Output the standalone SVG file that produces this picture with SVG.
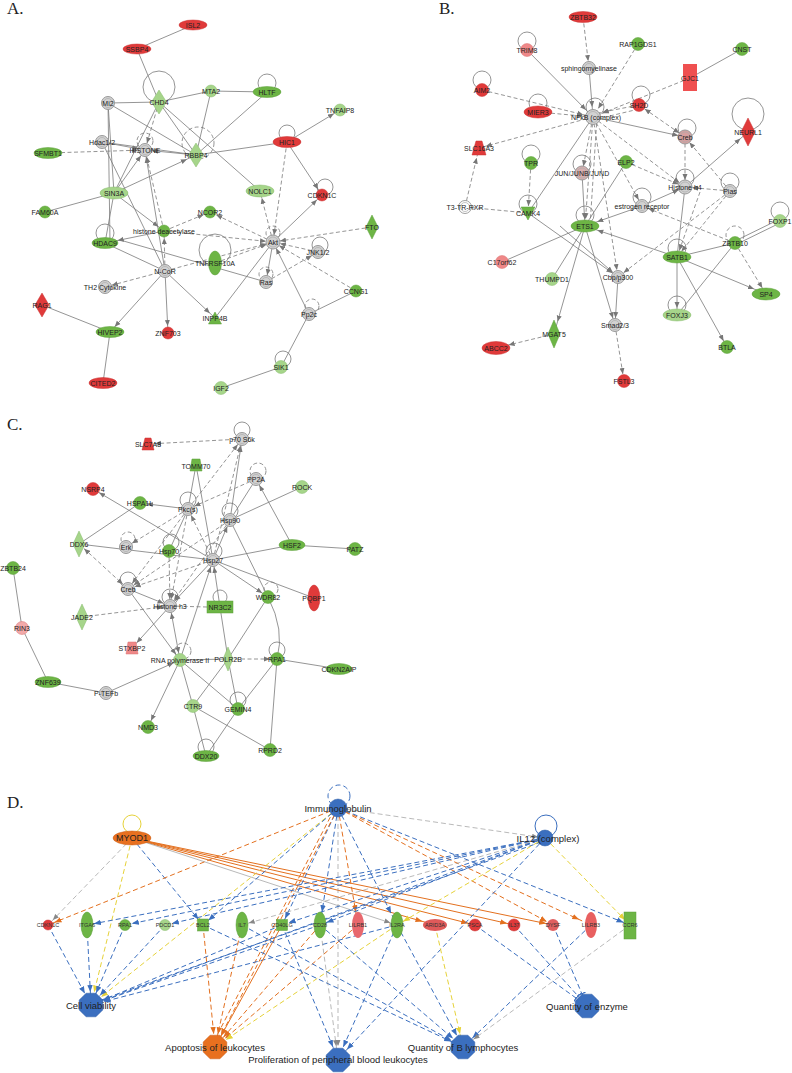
<svg xmlns="http://www.w3.org/2000/svg" width="792" height="1073" viewBox="0 0 792 1073">
<style>
text{font-family:"Liberation Sans",Arial,sans-serif;fill:#222;text-anchor:middle;dominant-baseline:central}
.t{font-size:7px}
.td{font-size:5.5px;fill:#333}
.tb{font-size:9.5px}
.lt{font-family:"Liberation Serif","Times New Roman",serif;font-size:17px;text-anchor:start;dominant-baseline:auto}
.r{fill:#e03a3a;stroke:#c83232;stroke-width:.5}
.pk{fill:#ef8888;stroke:#d87070;stroke-width:.5}
.g{fill:#6db545;stroke:#5b9e38;stroke-width:.5}
.lg{fill:#a6d58a;stroke:#86bb6c;stroke-width:.5}
.gr{fill:#d2d2d2;stroke:#9a9a9a;stroke-width:1}
.in{fill:none;stroke:#aaa;stroke-width:.7}
.wh{fill:#fff;stroke:#888;stroke-width:.8}
.e{stroke:#7a7a7a;stroke-width:.8;fill:none}
.d{stroke-dasharray:4 2.5}
.lp{fill:none;stroke:#7a7a7a;stroke-width:.8}
.bl{stroke:#3b6fbf;stroke-width:1;fill:none}
.or{stroke:#e3701f;stroke-width:1;fill:none}
.ye{stroke:#e6d23a;stroke-width:1;fill:none}
.gy{stroke:#8a8a8a;stroke-width:.6;fill:none}
.dd{stroke-dasharray:5 3}
.nb{fill:#3b6fbf;stroke:#2e5ea8;stroke-width:.5}
.no{fill:#e8701f;stroke:#c85d14;stroke-width:.5}
</style>
<defs>
<marker id="mg7" viewBox="0 0 6 6" refX="13" refY="3" markerWidth="6" markerHeight="6" markerUnits="userSpaceOnUse" orient="auto"><path d="M0,0.5L6,3L0,5.5z" fill="#777"/></marker>
<marker id="mg10" viewBox="0 0 6 6" refX="16" refY="3" markerWidth="6" markerHeight="6" markerUnits="userSpaceOnUse" orient="auto"><path d="M0,0.5L6,3L0,5.5z" fill="#777"/></marker>
<marker id="mg13" viewBox="0 0 6 6" refX="19" refY="3" markerWidth="6" markerHeight="6" markerUnits="userSpaceOnUse" orient="auto"><path d="M0,0.5L6,3L0,5.5z" fill="#777"/></marker>
<marker id="ms7" viewBox="0 0 6 6" refX="-7" refY="3" markerWidth="6" markerHeight="6" markerUnits="userSpaceOnUse" orient="auto"><path d="M6,0.5L0,3L6,5.5z" fill="#777"/></marker>
<marker id="b7" viewBox="0 0 7 6" refX="14" refY="3" markerWidth="7" markerHeight="6" markerUnits="userSpaceOnUse" orient="auto"><path d="M0,0.3L7,3L0,5.7z" fill="#3b6fbf"/></marker>
<marker id="b13" viewBox="0 0 7 6" refX="20" refY="3" markerWidth="7" markerHeight="6" markerUnits="userSpaceOnUse" orient="auto"><path d="M0,0.3L7,3L0,5.7z" fill="#3b6fbf"/></marker>
<marker id="o7" viewBox="0 0 7 6" refX="14" refY="3" markerWidth="7" markerHeight="6" markerUnits="userSpaceOnUse" orient="auto"><path d="M0,0.3L7,3L0,5.7z" fill="#e3701f"/></marker>
<marker id="o13" viewBox="0 0 7 6" refX="20" refY="3" markerWidth="7" markerHeight="6" markerUnits="userSpaceOnUse" orient="auto"><path d="M0,0.3L7,3L0,5.7z" fill="#e3701f"/></marker>
<marker id="y7" viewBox="0 0 7 6" refX="14" refY="3" markerWidth="7" markerHeight="6" markerUnits="userSpaceOnUse" orient="auto"><path d="M0,0.3L7,3L0,5.7z" fill="#e6d23a"/></marker>
<marker id="y13" viewBox="0 0 7 6" refX="20" refY="3" markerWidth="7" markerHeight="6" markerUnits="userSpaceOnUse" orient="auto"><path d="M0,0.3L7,3L0,5.7z" fill="#e6d23a"/></marker>
<marker id="k7" viewBox="0 0 6 6" refX="13" refY="3" markerWidth="6" markerHeight="6" markerUnits="userSpaceOnUse" orient="auto"><path d="M0,0.5L6,3L0,5.5z" fill="#888"/></marker>
<marker id="k13" viewBox="0 0 6 6" refX="19" refY="3" markerWidth="6" markerHeight="6" markerUnits="userSpaceOnUse" orient="auto"><path d="M0,0.5L6,3L0,5.5z" fill="#888"/></marker>
<marker id="tb" viewBox="0 0 2 8" refX="14" refY="4" markerWidth="2" markerHeight="8" markerUnits="userSpaceOnUse" orient="auto"><rect x="0" y="0" width="1.2" height="8" fill="#3b6fbf"/></marker>
<polygon id="oct" points="-4.9,-11.8 4.9,-11.8 11.8,-4.9 11.8,4.9 4.9,11.8 -4.9,11.8 -11.8,4.9 -11.8,-4.9"/>
</defs>
<rect width="792" height="1073" fill="#fff"/>
<text class="lt" x="7" y="14">A.</text>
<text class="lt" x="439" y="14">B.</text>
<text class="lt" x="7" y="430">C.</text>
<text class="lt" x="7" y="808">D.</text>

<g id="connectors">
<!-- Panel A -->
<circle class="lp" cx="159" cy="87" r="16"/>
<circle class="lp" cx="267" cy="83" r="9"/>
<circle class="lp" cx="287" cy="133" r="8"/>
<circle class="lp d" cx="145" cy="141" r="8"/>
<circle class="lp d" cx="198" cy="143" r="16"/>
<circle class="lp" cx="325" cy="187" r="8"/>
<circle class="lp" cx="105" cy="233" r="9"/>
<circle class="lp" cx="215" cy="250" r="16"/>
<circle class="lp d" cx="273" cy="233" r="7"/>
<circle class="lp" cx="320" cy="245" r="8"/>
<circle class="lp d" cx="266" cy="274" r="7"/>
<circle class="lp d" cx="312" cy="306" r="7"/>
<circle class="lp" cx="283" cy="359" r="8"/>
<line class="e" x1="137" y1="49" x2="193" y2="25"/>
<line class="e" x1="137" y1="49" x2="159" y2="102"/>
<line class="e" x1="108" y1="103" x2="159" y2="102"/>
<line class="e" x1="159" y1="102" x2="211" y2="91"/>
<line class="e" x1="211" y1="91" x2="267" y2="92"/>
<line class="e" x1="211" y1="91" x2="196" y2="155"/>
<line class="e" x1="267" y1="92" x2="196" y2="155"/>
<line class="e" x1="108" y1="103" x2="196" y2="155"/>
<line class="e" x1="108" y1="103" x2="114" y2="193"/>
<line class="e" x1="108" y1="103" x2="110" y2="243"/>
<line class="e" x1="102" y1="142" x2="145" y2="150" marker-end="url(#mg7)"/>
<line class="e" x1="102" y1="142" x2="196" y2="155"/>
<line class="e" x1="102" y1="142" x2="165" y2="271"/>
<line class="e d" x1="48" y1="153" x2="145" y2="150" marker-end="url(#mg7)"/>
<line class="e" x1="159" y1="102" x2="114" y2="193"/>
<line class="e d" x1="159" y1="102" x2="145" y2="150" marker-end="url(#mg7)"/>
<line class="e" x1="159" y1="102" x2="196" y2="155"/>
<line class="e" x1="159" y1="102" x2="260" y2="191"/>
<line class="e" x1="196" y1="155" x2="287" y2="142"/>
<line class="e" x1="196" y1="155" x2="145" y2="150" marker-end="url(#mg7)"/>
<line class="e" x1="287" y1="142" x2="340" y2="110" marker-end="url(#mg7)"/>
<line class="e" x1="287" y1="142" x2="322" y2="195" marker-end="url(#mg7)"/>
<line class="e d" x1="287" y1="142" x2="273" y2="242" marker-end="url(#mg7)"/>
<line class="e" x1="114" y1="193" x2="45" y2="212"/>
<line class="e" x1="114" y1="193" x2="196" y2="155" marker-end="url(#mg10)"/>
<line class="e" x1="114" y1="193" x2="145" y2="150" marker-end="url(#mg7)"/>
<line class="e" x1="114" y1="193" x2="164" y2="231" marker-end="url(#mg7)"/>
<line class="e" x1="114" y1="193" x2="105" y2="243"/>
<line class="e d" x1="164" y1="231" x2="145" y2="150" marker-end="url(#mg7)"/>
<line class="e" x1="164" y1="231" x2="105" y2="243" marker-end="url(#mg13)"/>
<line class="e d" x1="164" y1="231" x2="210" y2="212" marker-end="url(#mg7)"/>
<line class="e d" x1="273" y1="242" x2="210" y2="212" marker-end="url(#mg7)"/>
<line class="e d" x1="273" y1="242" x2="260" y2="191" marker-end="url(#mg7)"/>
<line class="e" x1="273" y1="242" x2="322" y2="195" marker-end="url(#mg7)"/>
<line class="e d" x1="372" y1="227" x2="273" y2="242" marker-end="url(#mg7)"/>
<line class="e" x1="273" y1="242" x2="266" y2="282" marker-end="url(#mg7)"/>
<line class="e d" x1="318" y1="252" x2="273" y2="242" marker-end="url(#mg7)"/>
<line class="e d" x1="356" y1="291" x2="273" y2="242" marker-end="url(#mg7)"/>
<line class="e" x1="309" y1="314" x2="273" y2="242" marker-end="url(#mg7)"/>
<line class="e" x1="215" y1="318" x2="273" y2="242"/>
<line class="e d" x1="215" y1="263" x2="273" y2="242" marker-end="url(#mg7)"/>
<line class="e d" x1="164" y1="231" x2="273" y2="242" marker-end="url(#mg7)"/>
<line class="e" x1="105" y1="243" x2="165" y2="271"/>
<line class="e d" x1="165" y1="271" x2="164" y2="231" marker-end="url(#mg7)"/>
<line class="e d" x1="165" y1="271" x2="105" y2="287" marker-end="url(#mg7)"/>
<line class="e" x1="165" y1="271" x2="110" y2="332" marker-end="url(#mg7)"/>
<line class="e" x1="165" y1="271" x2="168" y2="333" marker-end="url(#mg7)"/>
<line class="e" x1="120" y1="240" x2="266" y2="282"/>
<line class="e" x1="165" y1="271" x2="215" y2="318" marker-end="url(#mg7)"/>
<line class="e d" x1="165" y1="271" x2="273" y2="242" marker-end="url(#mg7)"/>
<line class="e" x1="165" y1="271" x2="145" y2="150" marker-end="url(#mg7)"/>
<line class="e d" x1="266" y1="282" x2="318" y2="252" marker-end="url(#mg7)"/>
<line class="e" x1="42" y1="305" x2="110" y2="332"/>
<line class="e" x1="110" y1="332" x2="103" y2="383"/>
<line class="e" x1="356" y1="291" x2="309" y2="314"/>
<line class="e" x1="309" y1="314" x2="281" y2="367"/>
<line class="e" x1="281" y1="367" x2="221" y2="388"/>
<!-- Panel B -->
<circle class="lp" cx="527" cy="41" r="9"/>
<circle class="lp" cx="482" cy="80" r="9"/>
<circle class="lp" cx="538" cy="103" r="9"/>
<circle class="lp" cx="595" cy="107" r="9"/>
<circle class="lp" cx="641" cy="95" r="9"/>
<circle class="lp" cx="687" cy="128" r="9"/>
<circle class="lp" cx="748" cy="114" r="16"/>
<circle class="lp" cx="531" cy="154" r="9"/>
<circle class="lp" cx="582" cy="164" r="9"/>
<circle class="lp" cx="685" cy="178" r="9"/>
<circle class="lp" cx="730" cy="182" r="9"/>
<circle class="lp" cx="642" cy="197" r="9"/>
<circle class="lp" cx="528" cy="204" r="9"/>
<circle class="lp" cx="585" cy="215" r="9"/>
<circle class="lp" cx="780" cy="211" r="9"/>
<circle class="lp" cx="677" cy="248" r="9"/>
<circle class="lp d" cx="735" cy="235" r="9"/>
<circle class="lp" cx="677" cy="305" r="9"/>
<line class="e d" x1="583" y1="17" x2="589" y2="68" marker-end="url(#mg7)"/>
<line class="e" x1="589" y1="68" x2="593" y2="117" marker-end="url(#mg10)"/>
<line class="e" x1="527" y1="50" x2="593" y2="117" marker-end="url(#mg10)"/>
<line class="e d" x1="482" y1="90" x2="593" y2="117" marker-end="url(#mg10)"/>
<line class="e d" x1="538" y1="112" x2="593" y2="117" marker-end="url(#mg10)"/>
<line class="e d" x1="593" y1="117" x2="479" y2="148" marker-end="url(#mg7)"/>
<line class="e d" x1="465" y1="207" x2="479" y2="148" marker-end="url(#mg10)"/>
<line class="e d" x1="638" y1="44" x2="593" y2="117" marker-end="url(#mg10)"/>
<line class="e" x1="742" y1="49" x2="690" y2="78"/>
<line class="e d" x1="690" y1="78" x2="593" y2="117" marker-end="url(#mg10)"/>
<line class="e d" x1="639" y1="105" x2="593" y2="114" marker-end="url(#mg10)"/>
<line class="e d" x1="639" y1="109" x2="593" y2="120"/>
<line class="e d" x1="639" y1="105" x2="685" y2="137" marker-start="url(#ms7)" marker-end="url(#mg7)"/>
<line class="e" x1="593" y1="117" x2="685" y2="137" marker-end="url(#mg7)"/>
<line class="e d" x1="593" y1="117" x2="685" y2="187" marker-end="url(#mg7)"/>
<line class="e d" x1="593" y1="117" x2="582" y2="173" marker-end="url(#mg7)"/>
<line class="e d" x1="593" y1="117" x2="585" y2="226" marker-end="url(#mg7)"/>
<line class="e d" x1="597" y1="117" x2="590" y2="226"/>
<line class="e" x1="593" y1="117" x2="528" y2="213"/>
<line class="e d" x1="593" y1="117" x2="642" y2="206" marker-end="url(#mg7)"/>
<line class="e d" x1="593" y1="117" x2="618" y2="277" marker-end="url(#mg7)"/>
<line class="e d" x1="531" y1="163" x2="528" y2="213" marker-end="url(#mg7)"/>
<line class="e d" x1="465" y1="207" x2="528" y2="213"/>
<line class="e" x1="528" y1="213" x2="618" y2="277" marker-end="url(#mg7)"/>
<line class="e d" x1="685" y1="137" x2="685" y2="187" marker-end="url(#mg7)"/>
<line class="e d" x1="730" y1="191" x2="685" y2="137" marker-end="url(#mg7)"/>
<line class="e d" x1="730" y1="191" x2="685" y2="187" marker-end="url(#mg7)"/>
<line class="e" x1="685" y1="187" x2="748" y2="132" marker-end="url(#mg10)"/>
<line class="e d" x1="626" y1="162" x2="685" y2="187" marker-end="url(#mg7)"/>
<line class="e" x1="626" y1="162" x2="585" y2="226"/>
<line class="e" x1="642" y1="206" x2="585" y2="226" marker-end="url(#mg13)"/>
<line class="e" x1="642" y1="206" x2="685" y2="187" marker-end="url(#mg7)"/>
<line class="e" x1="582" y1="173" x2="585" y2="226" marker-end="url(#mg7)"/>
<line class="e" x1="677" y1="257" x2="585" y2="226" marker-end="url(#mg13)"/>
<line class="e" x1="677" y1="257" x2="735" y2="243"/>
<line class="e" x1="677" y1="257" x2="766" y2="294" marker-end="url(#mg13)"/>
<line class="e" x1="677" y1="257" x2="677" y2="315" marker-end="url(#mg7)"/>
<line class="e" x1="677" y1="257" x2="727" y2="347" marker-end="url(#mg7)"/>
<line class="e" x1="677" y1="257" x2="685" y2="187"/>
<line class="e" x1="780" y1="219" x2="735" y2="241"/>
<line class="e" x1="780" y1="223" x2="735" y2="245"/>
<line class="e d" x1="735" y1="243" x2="766" y2="294" marker-end="url(#mg7)"/>
<line class="e" x1="735" y1="243" x2="677" y2="315"/>
<line class="e d" x1="735" y1="243" x2="642" y2="206" marker-end="url(#mg7)"/>
<line class="e d" x1="700" y1="192" x2="677" y2="257" marker-end="url(#mg7)"/>
<line class="e d" x1="730" y1="191" x2="677" y2="257" marker-end="url(#mg7)"/>
<line class="e" x1="585" y1="226" x2="502" y2="262"/>
<line class="e" x1="585" y1="226" x2="552" y2="279"/>
<line class="e" x1="585" y1="226" x2="554" y2="334" marker-end="url(#mg13)"/>
<line class="e" x1="585" y1="226" x2="615" y2="325" marker-end="url(#mg7)"/>
<line class="e" x1="560" y1="226" x2="618" y2="277" marker-end="url(#mg7)"/>
<line class="e d" x1="554" y1="334" x2="496" y2="348" marker-end="url(#mg13)"/>
<line class="e" x1="618" y1="277" x2="615" y2="325" marker-end="url(#mg7)"/>
<line class="e d" x1="615" y1="325" x2="624" y2="381" marker-end="url(#mg7)"/>
<line class="e d" x1="730" y1="191" x2="618" y2="277" marker-end="url(#mg7)"/>
<!-- Panel C -->
<circle class="lp" cx="242" cy="430" r="8"/>
<circle class="lp" cx="188" cy="500" r="8"/>
<circle class="lp d" cx="258" cy="471" r="8"/>
<circle class="lp" cx="230" cy="511" r="8"/>
<circle class="lp d" cx="128" cy="539" r="7"/>
<circle class="lp" cx="171" cy="542" r="8"/>
<circle class="lp" cx="214" cy="551" r="8"/>
<circle class="lp" cx="128" cy="580" r="8"/>
<circle class="lp" cx="170" cy="597" r="8"/>
<circle class="lp" cx="220" cy="597" r="7"/>
<circle class="lp d" cx="271" cy="589" r="7"/>
<circle class="lp d" cx="183" cy="651" r="8"/>
<circle class="lp" cx="277" cy="650" r="8"/>
<circle class="lp" cx="238" cy="700" r="8"/>
<circle class="lp" cx="206" cy="747" r="8"/>
<line class="e d" x1="242" y1="439" x2="148" y2="444" marker-end="url(#mg7)"/>
<line class="e d" x1="188" y1="509" x2="242" y2="439" marker-end="url(#mg7)"/>
<line class="e" x1="230" y1="520" x2="242" y2="439" marker-end="url(#mg7)"/>
<line class="e d" x1="213" y1="560" x2="242" y2="439" marker-end="url(#mg7)"/>
<line class="e" x1="196" y1="465" x2="188" y2="509"/>
<line class="e" x1="196" y1="465" x2="213" y2="560"/>
<line class="e" x1="256" y1="479" x2="230" y2="520"/>
<line class="e d" x1="256" y1="479" x2="188" y2="509" marker-end="url(#mg7)"/>
<line class="e" x1="292" y1="545" x2="256" y2="479" marker-end="url(#mg7)"/>
<line class="e" x1="302" y1="487" x2="230" y2="520"/>
<line class="e" x1="292" y1="545" x2="213" y2="560"/>
<line class="e" x1="292" y1="545" x2="355" y2="549"/>
<line class="e" x1="230" y1="520" x2="268" y2="597"/>
<line class="e" x1="213" y1="560" x2="314" y2="598"/>
<line class="e" x1="213" y1="560" x2="268" y2="597" marker-end="url(#mg7)"/>
<line class="e d" x1="213" y1="560" x2="188" y2="509" marker-end="url(#mg7)"/>
<line class="e" x1="213" y1="560" x2="230" y2="520" marker-end="url(#mg7)"/>
<line class="e" x1="213" y1="560" x2="93" y2="489" marker-end="url(#mg7)"/>
<line class="e" x1="188" y1="509" x2="140" y2="503" marker-end="url(#mg7)"/>
<line class="e" x1="140" y1="503" x2="79" y2="544"/>
<line class="e" x1="79" y1="544" x2="213" y2="560"/>
<line class="e d" x1="79" y1="544" x2="128" y2="589" marker-start="url(#ms7)" marker-end="url(#mg7)"/>
<line class="e d" x1="188" y1="509" x2="126" y2="547" marker-end="url(#mg7)"/>
<line class="e d" x1="188" y1="509" x2="128" y2="589" marker-end="url(#mg7)"/>
<line class="e d" x1="188" y1="509" x2="170" y2="606" marker-end="url(#mg7)"/>
<line class="e d" x1="230" y1="520" x2="128" y2="589" marker-end="url(#mg7)"/>
<line class="e d" x1="230" y1="520" x2="170" y2="606" marker-end="url(#mg7)"/>
<line class="e" x1="213" y1="560" x2="170" y2="606" marker-end="url(#mg7)"/>
<line class="e d" x1="213" y1="560" x2="128" y2="589" marker-end="url(#mg7)"/>
<line class="e" x1="128" y1="589" x2="170" y2="606" marker-end="url(#mg7)"/>
<line class="e" x1="128" y1="589" x2="180" y2="660" marker-end="url(#mg7)"/>
<line class="e d" x1="82" y1="617" x2="170" y2="606" marker-end="url(#mg7)"/>
<line class="e" x1="170" y1="606" x2="132" y2="648" marker-end="url(#mg7)"/>
<line class="e" x1="170" y1="606" x2="180" y2="660" marker-start="url(#ms7)" marker-end="url(#mg7)"/>
<line class="e" x1="220" y1="607" x2="213" y2="560" marker-end="url(#mg7)"/>
<line class="e" x1="220" y1="607" x2="228" y2="659"/>
<line class="e d" x1="207" y1="607" x2="170" y2="606"/>
<line class="e" x1="268" y1="597" x2="228" y2="659"/>
<path class="e" d="M268,597 Q285,630 277,659"/>
<line class="e" x1="180" y1="660" x2="228" y2="659"/>
<line class="e d" x1="228" y1="659" x2="277" y2="659" marker-end="url(#mg7)"/>
<line class="e" x1="277" y1="659" x2="339" y2="669"/>
<line class="e" x1="277" y1="659" x2="238" y2="709"/>
<line class="e" x1="277" y1="659" x2="270" y2="750"/>
<line class="e" x1="180" y1="660" x2="148" y2="727" marker-end="url(#mg7)"/>
<line class="e" x1="180" y1="660" x2="193" y2="706"/>
<line class="e" x1="180" y1="660" x2="238" y2="709"/>
<line class="e" x1="106" y1="693" x2="180" y2="660" marker-end="url(#mg7)"/>
<line class="e" x1="193" y1="706" x2="228" y2="659"/>
<line class="e" x1="193" y1="706" x2="270" y2="750"/>
<line class="e" x1="193" y1="706" x2="206" y2="756"/>
<line class="e" x1="238" y1="709" x2="206" y2="756"/>
<line class="e" x1="238" y1="709" x2="228" y2="659"/>
<line class="e" x1="13" y1="568" x2="22" y2="628"/>
<line class="e" x1="22" y1="628" x2="48" y2="682"/>
<line class="e" x1="48" y1="682" x2="106" y2="693"/>
<line class="e" x1="180" y1="660" x2="213" y2="560" marker-end="url(#mg7)"/>
<line class="e d" x1="169" y1="551" x2="170" y2="606" marker-end="url(#mg7)"/>
<line class="e" x1="169" y1="551" x2="188" y2="509"/>
<!-- Panel D -->
<circle class="ye" cx="132" cy="824" r="9"/>
<circle class="bl dd" cx="339" cy="796" r="11"/>
<circle class="bl" cx="546" cy="826" r="11"/>
<line class="or" x1="132" y1="838" x2="435" y2="925" marker-end="url(#o13)"/>
<line class="or" x1="132" y1="838" x2="475" y2="925" marker-end="url(#o7)"/>
<line class="or" x1="132" y1="838" x2="514" y2="925" marker-end="url(#o7)"/>
<line class="or" x1="132" y1="838" x2="553" y2="925" marker-end="url(#o7)"/>
<line class="gy" x1="132" y1="838" x2="397" y2="925" marker-end="url(#k7)"/>
<line class="gy dd" x1="132" y1="838" x2="48" y2="925" marker-end="url(#k7)"/>
<line class="ye dd" x1="132" y1="838" x2="91" y2="1005" marker-end="url(#y13)"/>
<line class="bl dd" x1="132" y1="838" x2="203" y2="925" marker-end="url(#b7)"/>
<line class="or dd" x1="338" y1="808" x2="48" y2="925" marker-end="url(#o7)"/>
<line class="ye dd" x1="338" y1="808" x2="91" y2="1005" marker-end="url(#y13)"/>
<line class="bl dd" x1="338" y1="808" x2="203" y2="925" marker-end="url(#b7)"/>
<line class="bl dd" x1="338" y1="808" x2="282" y2="925" marker-end="url(#b7)"/>
<line class="bl dd" x1="338" y1="808" x2="320" y2="925" marker-end="url(#b13)"/>
<line class="or dd" x1="338" y1="808" x2="358" y2="925" marker-end="url(#o13)"/>
<line class="bl dd" x1="338" y1="808" x2="397" y2="925" marker-end="url(#b13)"/>
<line class="gy dd" x1="338" y1="808" x2="338" y2="1059" marker-end="url(#k13)"/>
<line class="or dd" x1="338" y1="808" x2="215" y2="1047" marker-end="url(#o13)"/>
<line class="or dd" x1="334" y1="810" x2="212" y2="1045"/>
<line class="gy dd" x1="338" y1="808" x2="545" y2="838" marker-end="url(#k7)"/>
<line class="or dd" x1="338" y1="808" x2="553" y2="925" marker-end="url(#o7)"/>
<line class="or dd" x1="338" y1="808" x2="591" y2="925" marker-end="url(#o13)"/>
<line class="bl dd" x1="338" y1="808" x2="630" y2="925" marker-end="url(#b7)"/>
<line class="bl dd" x1="545" y1="838" x2="87" y2="925" marker-end="url(#b7)"/>
<line class="bl dd" x1="545" y1="838" x2="125" y2="925" marker-end="url(#b7)"/>
<line class="bl dd" x1="545" y1="838" x2="165" y2="925" marker-end="url(#b7)"/>
<line class="bl dd" x1="545" y1="838" x2="282" y2="925" marker-end="url(#b7)"/>
<line class="bl dd" x1="545" y1="838" x2="320" y2="925" marker-end="url(#b7)"/>
<line class="bl dd" x1="545" y1="838" x2="91" y2="1005" marker-end="url(#b13)"/>
<line class="bl dd" x1="541" y1="842" x2="93" y2="1003"/>
<line class="gy dd" x1="545" y1="838" x2="242" y2="925" marker-end="url(#k7)"/>
<line class="ye dd" x1="545" y1="838" x2="397" y2="925" marker-end="url(#y7)"/>
<line class="ye dd" x1="545" y1="838" x2="630" y2="925" marker-end="url(#y7)"/>
<line class="bl dd" x1="545" y1="838" x2="338" y2="1059" marker-end="url(#b13)"/>
<line class="bl dd" x1="48" y1="925" x2="91" y2="1005" marker-end="url(#b13)"/>
<line class="bl dd" x1="87" y1="925" x2="91" y2="1005" marker-end="url(#b13)"/>
<line class="bl dd" x1="125" y1="925" x2="91" y2="1005" marker-end="url(#b13)"/>
<line class="bl dd" x1="165" y1="925" x2="91" y2="1005" marker-end="url(#b13)"/>
<line class="bl dd" x1="282" y1="925" x2="91" y2="1005" marker-end="url(#b13)"/>
<line class="bl dd" x1="320" y1="925" x2="91" y2="1005" marker-end="url(#b13)"/>
<line class="bl dd" x1="397" y1="925" x2="91" y2="1005" marker-end="url(#b13)"/>
<line class="or dd" x1="203" y1="925" x2="215" y2="1047" marker-end="url(#o13)"/>
<line class="or dd" x1="242" y1="925" x2="215" y2="1047" marker-end="url(#o13)"/>
<line class="or" x1="282" y1="925" x2="215" y2="1047" marker-end="url(#o13)"/>
<line class="or dd" x1="320" y1="925" x2="215" y2="1047" marker-end="url(#o13)"/>
<line class="or dd" x1="358" y1="925" x2="215" y2="1047" marker-end="url(#o13)"/>
<line class="ye dd" x1="397" y1="925" x2="215" y2="1047" marker-end="url(#y13)"/>
<line class="bl dd" x1="203" y1="925" x2="463" y2="1047" marker-end="url(#b13)"/>
<line class="bl dd" x1="242" y1="925" x2="463" y2="1047" marker-end="url(#b13)"/>
<line class="bl dd" x1="320" y1="925" x2="463" y2="1047" marker-end="url(#b13)"/>
<line class="bl dd" x1="397" y1="925" x2="463" y2="1047" marker-end="url(#b13)"/>
<line class="ye dd" x1="435" y1="925" x2="463" y2="1047" marker-end="url(#y13)"/>
<line class="bl dd" x1="591" y1="925" x2="463" y2="1047" marker-end="url(#b13)"/>
<line class="gy dd" x1="630" y1="925" x2="463" y2="1047" marker-end="url(#k13)"/>
<line class="bl dd" x1="282" y1="925" x2="338" y2="1059" marker-end="url(#b13)"/>
<line class="gy dd" x1="320" y1="925" x2="338" y2="1059" marker-end="url(#k13)"/>
<line class="bl dd" x1="397" y1="925" x2="338" y2="1059" marker-end="url(#b13)"/>
<line class="bl dd" x1="475" y1="925" x2="587" y2="1006" marker-end="url(#tb)"/>
<line class="bl dd" x1="514" y1="925" x2="587" y2="1006" marker-end="url(#tb)"/>
<line class="bl dd" x1="553" y1="925" x2="587" y2="1006" marker-end="url(#tb)"/>
</g>

<!-- Panel A nodes -->
<g id="a-isl2"><ellipse class="r" cx="193" cy="25" rx="14" ry="5"/><text class="t" x="193" y="25">ISL2</text></g>
<g id="a-ssbp4"><ellipse class="r" cx="137" cy="49" rx="14" ry="5"/><text class="t" x="137" y="49">SSBP4</text></g>
<g id="a-chd4"><polygon class="lg" points="159,90 166.5,102 159,114 151.5,102"/><text class="t" x="159" y="102">CHD4</text></g>
<g id="a-mi2"><circle class="gr" cx="108" cy="103" r="6.5"/><circle class="in" cx="108" cy="103" r="4.5"/><text class="t" x="108" y="103">Mi2</text></g>
<g id="a-mta2"><circle class="lg" cx="211" cy="91" r="6"/><text class="t" x="211" y="91">MTA2</text></g>
<g id="a-hltf"><ellipse class="g" cx="267" cy="92" rx="14" ry="5.5"/><text class="t" x="267" y="92">HLTF</text></g>
<g id="a-tnfaip8"><circle class="lg" cx="340" cy="110" r="6"/><text class="t" x="340" y="110">TNFAIP8</text></g>
<g id="a-hic1"><ellipse class="r" cx="287" cy="142" rx="14" ry="5.5"/><text class="t" x="287" y="142">HIC1</text></g>
<g id="a-hdac12"><circle class="gr" cx="102" cy="142" r="6.5"/><circle class="in" cx="102" cy="142" r="4.5"/><text class="t" x="102" y="142">Hdac1/2</text></g>
<g id="a-histone"><circle class="gr" cx="145" cy="150" r="6.5"/><circle class="in" cx="145" cy="150" r="4.5"/><text class="t" x="145" y="150">HISTONE</text></g>
<g id="a-sfmbt1"><ellipse class="g" cx="48" cy="153" rx="14" ry="5.5"/><text class="t" x="48" y="153">SFMBT1</text></g>
<g id="a-rbbp4"><polygon class="lg" points="196,143 203.5,155 196,167 188.5,155"/><text class="t" x="196" y="155">RBBP4</text></g>
<g id="a-sin3a"><ellipse class="lg" cx="114" cy="193" rx="14" ry="6"/><text class="t" x="114" y="193">SIN3A</text></g>
<g id="a-fam60a"><circle class="g" cx="45" cy="212" r="6"/><text class="t" x="45" y="212">FAM60A</text></g>
<g id="a-nolc1"><ellipse class="lg" cx="260" cy="191" rx="14" ry="6"/><text class="t" x="260" y="191">NOLC1</text></g>
<g id="a-cdkn1c"><circle class="r" cx="322" cy="195" r="6"/><text class="t" x="322" y="195">CDKN1C</text></g>
<g id="a-ncor2"><circle class="g" cx="210" cy="212" r="6"/><text class="t" x="210" y="212">NCOR2</text></g>
<g id="a-fto"><polygon class="g" points="372,215 378,227 372,239 366,227"/><text class="t" x="372" y="227">FTO</text></g>
<g id="a-hdacase"><circle class="g" cx="164" cy="231" r="6"/><text class="t" x="164" y="231">histone deacetylase</text></g>
<g id="a-hdac9"><ellipse class="g" cx="105" cy="243" rx="13" ry="5.5"/><text class="t" x="105" y="243">HDAC9</text></g>
<g id="a-tnfrsf10a"><ellipse class="g" cx="215" cy="263" rx="6.5" ry="12"/><text class="t" x="215" y="263">TNFRSF10A</text></g>
<g id="a-akt"><circle class="gr" cx="273" cy="242" r="7"/><circle class="in" cx="273" cy="242" r="5"/><text class="t" x="273" y="242">Akt</text></g>
<g id="a-jnk"><circle class="gr" cx="318" cy="252" r="6.5"/><circle class="in" cx="318" cy="252" r="4.5"/><text class="t" x="318" y="252">JNK1/2</text></g>
<g id="a-ras"><circle class="gr" cx="266" cy="282" r="6.5"/><circle class="in" cx="266" cy="282" r="4.5"/><text class="t" x="266" y="282">Ras</text></g>
<g id="a-ncor"><circle class="gr" cx="165" cy="271" r="6.5"/><circle class="in" cx="165" cy="271" r="4.5"/><text class="t" x="165" y="271">N-CoR</text></g>
<g id="a-th2"><circle class="gr" cx="105" cy="287" r="6.5"/><circle class="in" cx="105" cy="287" r="4.5"/><text class="t" x="105" y="287">TH2 Cytokine</text></g>
<g id="a-inpp4b"><polygon class="g" points="215,312 221.5,324 208.5,324"/><text class="t" x="215" y="318">INPP4B</text></g>
<g id="a-ccng1"><circle class="g" cx="356" cy="291" r="6"/><text class="t" x="356" y="291">CCNG1</text></g>
<g id="a-pp2c"><circle class="gr" cx="309" cy="314" r="6.5"/><circle class="in" cx="309" cy="314" r="4.5"/><text class="t" x="309" y="314">Pp2c</text></g>
<g id="a-rag1"><polygon class="r" points="42,293 49,305 42,317 35,305"/><text class="t" x="42" y="305">RAG1</text></g>
<g id="a-hivep2"><ellipse class="g" cx="110" cy="332" rx="14" ry="5.5"/><text class="t" x="110" y="332">HIVEP2</text></g>
<g id="a-znf703"><circle class="r" cx="168" cy="333" r="6"/><text class="t" x="168" y="333">ZNF703</text></g>
<g id="a-sik1"><circle class="lg" cx="281" cy="367" r="6.5"/><text class="t" x="281" y="367">SIK1</text></g>
<g id="a-cited2"><ellipse class="r" cx="103" cy="383" rx="14" ry="5.5"/><text class="t" x="103" y="383">CITED2</text></g>
<g id="a-igf2"><circle class="lg" cx="221" cy="388" r="6.5"/><text class="t" x="221" y="388">IGF2</text></g>

<!-- Panel B nodes -->
<g id="b-zbtb32"><ellipse class="r" cx="583" cy="17" rx="14" ry="5.5"/><text class="t" x="583" y="17">ZBTB32</text></g>
<g id="b-trim8"><circle class="pk" cx="527" cy="50" r="6.5"/><text class="t" x="527" y="50">TRIM8</text></g>
<g id="b-sph"><circle class="gr" cx="589" cy="68" r="6.5"/><circle class="in" cx="589" cy="68" r="4.5"/><text class="t" x="589" y="68">sphingomyelinase</text></g>
<g id="b-rap1gds1"><circle class="g" cx="638" cy="44" r="6.5"/><text class="t" x="638" y="44">RAP1GDS1</text></g>
<g id="b-cnst"><circle class="g" cx="742" cy="49" r="6.5"/><text class="t" x="742" y="49">CNST</text></g>
<g id="b-gjc1"><rect x="683" y="64" width="14" height="27" fill="#ef5050"/><text class="t" x="690" y="78">GJC1</text></g>
<g id="b-aim2"><circle class="r" cx="482" cy="90" r="6.5"/><text class="t" x="482" y="90">AIM2</text></g>
<g id="b-mier3"><ellipse class="r" cx="538" cy="112" rx="14" ry="6"/><text class="t" x="538" y="112">MIER3</text></g>
<g id="b-nfkb"><circle class="gr" cx="593" cy="117" r="7.5"/><circle class="in" cx="593" cy="117" r="5.5"/><text class="t" x="596" y="117">NFkB (complex)</text></g>
<g id="b-sh2d"><circle class="r" cx="639" cy="105" r="6.5"/><text class="t" x="639" y="105">SH2D</text></g>
<g id="b-creb"><circle cx="685" cy="137" r="7" fill="#d8a0a0" stroke="#9a9a9a"/><circle class="in" cx="685" cy="137" r="5"/><text class="t" x="685" y="137">Creb</text></g>
<g id="b-neurl1"><polygon class="r" points="748,118 755,132 748,146 741,132"/><text class="t" x="748" y="132">NEURL1</text></g>
<g id="b-slc16a3"><polygon class="r" points="476,141 482,141 486,155 472,155"/><text class="t" x="479" y="148">SLC16A3</text></g>
<g id="b-tpr"><circle class="g" cx="531" cy="163" r="6.5"/><text class="t" x="531" y="163">TPR</text></g>
<g id="b-jun"><circle cx="582" cy="173" r="7" fill="#d8b0b0" stroke="#9a9a9a"/><circle class="in" cx="582" cy="173" r="5"/><text class="t" x="582" y="173">JUN/JUNB/JUND</text></g>
<g id="b-elp2"><circle class="g" cx="626" cy="162" r="6.5"/><text class="t" x="626" y="162">ELP2</text></g>
<g id="b-h4"><circle class="gr" cx="685" cy="187" r="7"/><circle class="in" cx="685" cy="187" r="5"/><text class="t" x="685" y="187">Histone h4</text></g>
<g id="b-pias"><circle class="gr" cx="730" cy="191" r="6.5"/><circle class="in" cx="730" cy="191" r="4.5"/><text class="t" x="730" y="191">Pias</text></g>
<g id="b-er"><circle class="gr" cx="642" cy="206" r="6.5"/><circle class="in" cx="642" cy="206" r="4.5"/><text class="t" x="642" y="206">estrogen receptor</text></g>
<g id="b-t3"><circle class="wh" cx="465" cy="207" r="6.5"/><circle class="in" cx="465" cy="207" r="4.5"/><text class="t" x="465" y="207">T3-TR-RXR</text></g>
<g id="b-camk4"><polygon class="g" points="521,207 535,207 528,220"/><text class="t" x="528" y="213">CAMK4</text></g>
<g id="b-ets1"><ellipse class="g" cx="585" cy="226" rx="14" ry="6"/><text class="t" x="585" y="226">ETS1</text></g>
<g id="b-foxp1"><circle class="lg" cx="780" cy="221" r="6.5"/><text class="t" x="780" y="221">FOXP1</text></g>
<g id="b-c17orf62"><circle class="pk" cx="502" cy="262" r="6.5"/><text class="t" x="502" y="262">C17orf62</text></g>
<g id="b-thumpd1"><circle class="lg" cx="552" cy="279" r="6.5"/><text class="t" x="552" y="279">THUMPD1</text></g>
<g id="b-mgat5"><polygon class="g" points="554,320 560,334 554,348 548,334"/><text class="t" x="554" y="334">MGAT5</text></g>
<g id="b-abcc2"><ellipse class="r" cx="496" cy="348" rx="14" ry="6.5"/><text class="t" x="496" y="348">ABCC2</text></g>
<g id="b-satb1"><ellipse class="g" cx="677" cy="257" rx="14" ry="6"/><text class="t" x="677" y="257">SATB1</text></g>
<g id="b-zbtb10"><circle class="g" cx="735" cy="243" r="6.5"/><text class="t" x="735" y="243">ZBTB10</text></g>
<g id="b-sp4"><ellipse class="g" cx="766" cy="294" rx="14" ry="6"/><text class="t" x="766" y="294">SP4</text></g>
<g id="b-cbp"><circle class="gr" cx="618" cy="277" r="6.5"/><circle class="in" cx="618" cy="277" r="4.5"/><text class="t" x="618" y="277">Cbp/p300</text></g>
<g id="b-foxj3"><ellipse class="lg" cx="677" cy="315" rx="14" ry="6"/><text class="t" x="677" y="315">FOXJ3</text></g>
<g id="b-smad"><circle class="gr" cx="615" cy="325" r="6.5"/><circle class="in" cx="615" cy="325" r="4.5"/><text class="t" x="615" y="325">Smad2/3</text></g>
<g id="b-btla"><circle class="g" cx="727" cy="347" r="6.5"/><text class="t" x="727" y="347">BTLA</text></g>
<g id="b-fstl3"><circle class="r" cx="624" cy="381" r="6.5"/><text class="t" x="624" y="381">FSTL3</text></g>

<!-- Panel C nodes -->
<g id="c-slc7a8"><polygon class="r" points="145,438 151,438 154,450 142,450"/><text class="t" x="148" y="444">SLC7A8</text></g>
<g id="c-p70"><circle class="gr" cx="242" cy="439" r="6.5"/><circle class="in" cx="242" cy="439" r="4.5"/><text class="t" x="242" y="439">p70 S6k</text></g>
<g id="c-tomm70"><polygon class="g" points="192,459 200,459 202,471 190,471"/><text class="t" x="196" y="466">TOMM70</text></g>
<g id="c-nsrp4"><circle class="r" cx="93" cy="489" r="6.5"/><text class="t" x="93" y="489">NSRP4</text></g>
<g id="c-hspa1l"><circle class="g" cx="140" cy="503" r="6.5"/><text class="t" x="140" y="503">HSPA1L</text></g>
<g id="c-pkc"><circle class="gr" cx="188" cy="509" r="6.5"/><circle class="in" cx="188" cy="509" r="4.5"/><text class="t" x="188" y="509">Pkc(s)</text></g>
<g id="c-pp2a"><circle class="gr" cx="256" cy="479" r="6.5"/><circle class="in" cx="256" cy="479" r="4.5"/><text class="t" x="256" y="479">PP2A</text></g>
<g id="c-rock"><circle class="lg" cx="302" cy="487" r="6.5"/><text class="t" x="302" y="487">ROCK</text></g>
<g id="c-hsp90"><circle class="gr" cx="230" cy="520" r="6.5"/><circle class="in" cx="230" cy="520" r="4.5"/><text class="t" x="230" y="520">Hsp90</text></g>
<g id="c-hsf2"><ellipse class="g" cx="292" cy="545" rx="13" ry="5.5"/><text class="t" x="292" y="545">HSF2</text></g>
<g id="c-patz"><circle class="g" cx="355" cy="549" r="6.5"/><text class="t" x="355" y="549">PATZ</text></g>
<g id="c-ddx6"><polygon class="lg" points="79,531 85,544 79,557 73,544"/><text class="t" x="79" y="544">DDX6</text></g>
<g id="c-erk"><circle class="gr" cx="126" cy="547" r="6.5"/><circle class="in" cx="126" cy="547" r="4.5"/><text class="t" x="126" y="547">Erk</text></g>
<g id="c-hsp70"><circle class="g" cx="169" cy="551" r="6.5"/><text class="t" x="169" y="551">Hsp70</text></g>
<g id="c-hsp27"><circle class="gr" cx="213" cy="560" r="6.5"/><circle class="in" cx="213" cy="560" r="4.5"/><text class="t" x="213" y="560">Hsp27</text></g>
<g id="c-zbtb24"><circle class="g" cx="13" cy="568" r="6.5"/><text class="t" x="13" y="568">ZBTB24</text></g>
<g id="c-creb"><circle class="gr" cx="128" cy="589" r="6.5"/><circle class="in" cx="128" cy="589" r="4.5"/><text class="t" x="128" y="589">Creb</text></g>
<g id="c-h3"><circle class="gr" cx="170" cy="606" r="6.5"/><circle class="in" cx="170" cy="606" r="4.5"/><text class="t" x="170" y="606">Histone h3</text></g>
<g id="c-nr3c2"><rect class="g" x="207" y="601" width="26" height="12"/><text class="t" x="220" y="607">NR3C2</text></g>
<g id="c-wdr82"><circle class="g" cx="268" cy="597" r="6.5"/><text class="t" x="268" y="597">WDR82</text></g>
<g id="c-pqbp1"><ellipse class="r" cx="314" cy="598" rx="6" ry="13" fill="#ef2f2f"/><text class="t" x="314" y="598">PQBP1</text></g>
<g id="c-jade2"><polygon class="lg" points="82,604 88,617 82,630 76,617"/><text class="t" x="82" y="617">JADE2</text></g>
<g id="c-rin3"><circle class="pk" cx="22" cy="628" r="6.5" style="fill:#f2aaaa"/><text class="t" x="22" y="628">RIN3</text></g>
<g id="c-stxbp2"><polygon class="pk" points="128,642 136,642 138,654 126,654"/><text class="t" x="132" y="648">STXBP2</text></g>
<g id="c-rnapol"><circle class="lg" cx="180" cy="660" r="6.5"/><text class="t" x="180" y="660">RNA polymerase II</text></g>
<g id="c-polr2b"><polygon class="lg" points="228,647 233,659 228,671 223,659"/><text class="t" x="228" y="659">POLR2B</text></g>
<g id="c-rpa1"><circle class="g" cx="277" cy="659" r="6.5"/><text class="t" x="277" y="659">RPA1</text></g>
<g id="c-cdkn2aip"><ellipse class="g" cx="339" cy="669" rx="13" ry="5.5"/><text class="t" x="339" y="669">CDKN2AIP</text></g>
<g id="c-znf639"><ellipse class="g" cx="48" cy="682" rx="13" ry="5.5"/><text class="t" x="48" y="682">ZNF639</text></g>
<g id="c-ptefb"><circle class="gr" cx="106" cy="693" r="6.5"/><circle class="in" cx="106" cy="693" r="4.5"/><text class="t" x="106" y="693">P-TEFb</text></g>
<g id="c-ctr9"><circle class="lg" cx="193" cy="706" r="6.5"/><text class="t" x="193" y="706">CTR9</text></g>
<g id="c-gemin4"><circle class="g" cx="238" cy="709" r="6.5"/><text class="t" x="238" y="709">GEMIN4</text></g>
<g id="c-nmd3"><circle class="g" cx="148" cy="727" r="6.5"/><text class="t" x="148" y="727">NMD3</text></g>
<g id="c-ddx20"><ellipse class="g" cx="206" cy="756" rx="13" ry="5.5"/><text class="t" x="206" y="756">DDX20</text></g>
<g id="c-rprd2"><circle class="g" cx="270" cy="750" r="6.5"/><text class="t" x="270" y="750">RPRD2</text></g>

<!-- Panel D nodes -->
<g id="d-imm"><circle class="nb" cx="338" cy="808" r="9"/><text class="tb" x="338" y="808">Immunoglobulin</text></g>
<g id="d-myod1"><ellipse class="no" cx="132" cy="838" rx="19" ry="7"/><text class="tb" x="132" y="838" style="font-size:9px">MYOD1</text></g>
<g id="d-il12"><circle class="nb" cx="545" cy="838" r="8"/><text class="tb" x="548" y="838">IL12 (complex)</text></g>
<g id="d-cdkn1c"><circle class="r" cx="48" cy="925" r="5"/><text class="td" x="48" y="925">CDKN1C</text></g>
<g id="d-itga6"><ellipse class="g" cx="87" cy="925" rx="6" ry="13"/><text class="td" x="87" y="925">ITGA6</text></g>
<g id="d-rpa1"><circle class="g" cx="125" cy="925" r="5.5"/><text class="td" x="125" y="925">RPA1</text></g>
<g id="d-pdcd1"><circle class="lg" cx="165" cy="925" r="5.5"/><text class="td" x="165" y="925">PDCD1</text></g>
<g id="d-bcl2"><rect class="g" x="197.5" y="919" width="11" height="12"/><text class="td" x="203" y="925">BCL2</text></g>
<g id="d-il7"><ellipse class="g" cx="242" cy="925" rx="6" ry="13"/><text class="td" x="242" y="925">IL7</text></g>
<g id="d-cd40lg"><rect class="g" x="276.5" y="919.5" width="11" height="11"/><text class="td" x="282" y="925">CD40LG</text></g>
<g id="d-cd28"><ellipse class="g" cx="320" cy="925" rx="6" ry="13"/><text class="td" x="320" y="925">CD28</text></g>
<g id="d-lilrb1"><ellipse cx="358" cy="925" rx="6" ry="13" fill="#e8686e"/><text class="td" x="358" y="925">LILRB1</text></g>
<g id="d-il2ra"><ellipse class="g" cx="397" cy="925" rx="6" ry="13"/><text class="td" x="397" y="925">IL2RA</text></g>
<g id="d-arid3a"><ellipse cx="435" cy="925" rx="12" ry="6" fill="#e05a5a"/><text class="td" x="435" y="925">ARID3A</text></g>
<g id="d-psca"><circle class="r" cx="475" cy="925" r="6"/><text class="td" x="475" y="925">PSCA</text></g>
<g id="d-il37"><circle class="r" cx="514" cy="925" r="6"/><text class="td" x="514" y="925">IL37</text></g>
<g id="d-dysf"><circle cx="553" cy="925" r="6" fill="#e06060"/><text class="td" x="553" y="925">DYSF</text></g>
<g id="d-lilrb3"><ellipse cx="591" cy="925" rx="6" ry="13" fill="#e86060"/><text class="td" x="591" y="925">LILRB3</text></g>
<g id="d-ccr6"><rect class="g" x="624" y="912" width="12" height="27"/><text class="td" x="630" y="925">CCR6</text></g>
<g id="d-cv"><use href="#oct" x="91" y="1005" class="nb"/><text class="tb" x="91" y="1005">Cell viability</text></g>
<g id="d-al"><use href="#oct" x="215" y="1047" class="no"/><text class="tb" x="215" y="1047">Apoptosis of leukocytes</text></g>
<g id="d-ppbl"><use href="#oct" x="338" y="1060" class="nb"/><text class="tb" x="338" y="1059">Proliferation of peripheral blood leukocytes</text></g>
<g id="d-qbl"><use href="#oct" x="463" y="1047" class="nb"/><text class="tb" x="463" y="1047">Quantity of B lymphocytes</text></g>
<g id="d-qe"><use href="#oct" x="587" y="1006" class="nb"/><text class="tb" x="587" y="1006">Quantity of enzyme</text></g>
</svg>
